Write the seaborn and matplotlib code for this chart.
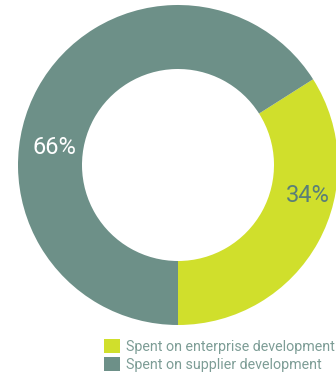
import matplotlib
matplotlib.use("Agg")
import matplotlib.pyplot as plt
from matplotlib.patches import Patch
import seaborn as sns

# Share of development spend
categories = ["Spent on enterprise development", "Spent on supplier development"]
values = [34, 66]
value_labels = ["34%", "66%"]
colors = ["#d0df2c", "#6d9088"]

sns.set_theme(style="white")
plt.rcParams["font.family"] = ["Roboto", "DejaVu Sans"]

W, H = 336, 377
fig = plt.figure(figsize=(W / 100, H / 100), dpi=100)
fig.patch.set_facecolor("white")

# Ring centre and outer radius in pixels
cx, cy, r = 178, 165, 160
ax = fig.add_axes([(cx - r) / W, (H - cy - r) / H, 2 * r / W, 2 * r / H])
ax.set_axis_off()

wedges, _ = ax.pie(
    values,
    colors=colors,
    startangle=-90,
    counterclock=True,
    radius=1.0,
    wedgeprops=dict(width=0.4, edgecolor="none", linewidth=0),
)
for w in wedges:
    w.set_clip_on(False)
ax.set_xlim(-1, 1)
ax.set_ylim(-1, 1)
ax.set_aspect("equal")

ax.text(0.81, -0.19, value_labels[0], ha="center", va="center",
        fontsize=17, color="#5a7f78", fontweight="normal")
ax.text(-0.77, 0.11, value_labels[1], ha="center", va="center",
        fontsize=17, color="white", fontweight="normal")

handles = [Patch(facecolor=c, edgecolor="none") for c in colors]
leg = fig.legend(
    handles, categories,
    loc="upper left",
    bbox_to_anchor=(100 / W, 1 - 335 / H),
    frameon=False,
    fontsize=10.3,
    handlelength=1.1,
    handleheight=1.1,
    handletextpad=0.45,
    labelspacing=0.2,
    borderaxespad=0,
    borderpad=0.3,
)
for t in leg.get_texts():
    t.set_color("#7d9d96")
    t.set_fontweight("normal")

fig.savefig("out.png", dpi=100)
